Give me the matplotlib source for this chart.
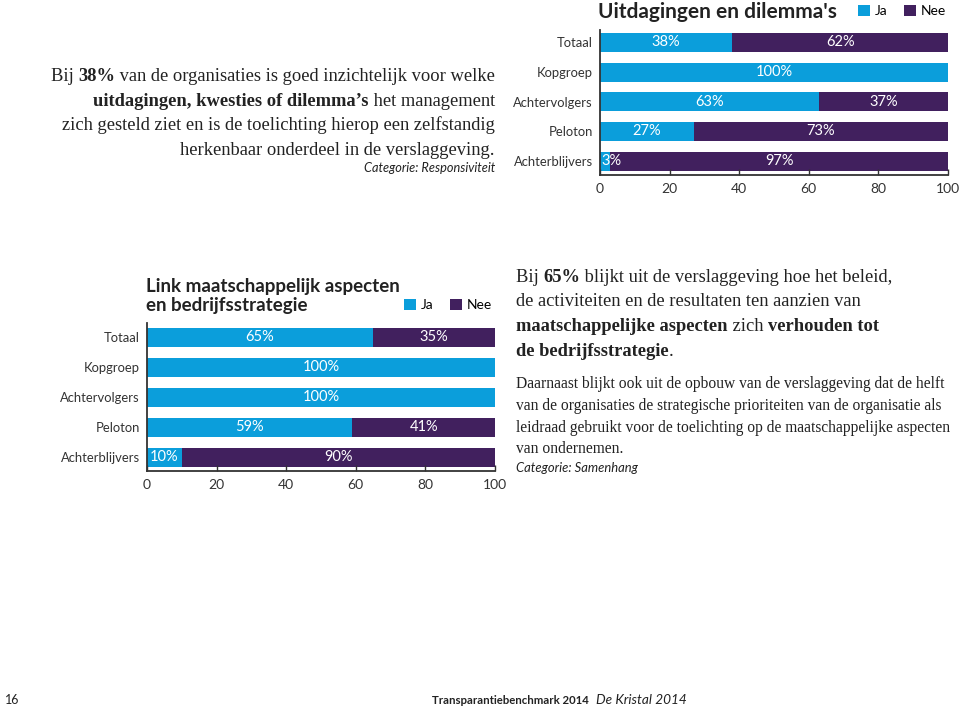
import matplotlib
matplotlib.use("Agg")
import matplotlib.pyplot as plt
import numpy as np

# ---------------- data ----------------
groups = ["Totaal", "Kopgroep", "Achtervolgers", "Peloton", "Achterblijvers"]
series = ["Ja", "Nee"]

dilemma_ja = [38, 100, 63, 27, 3]
dilemma_nee = [62, 0, 37, 73, 97]

link_ja = [65, 100, 100, 59, 10]
link_nee = [35, 0, 0, 41, 90]

x_ticks = [0, 20, 40, 60, 80, 100]

title_top = "Uitdagingen en dilemma's"
title_bottom = "Link maatschappelijk aspecten\nen bedrijfsstrategie"

BLUE = "#0b9edb"
PURPLE = "#41205e"
SANS = ["Lato", "DejaVu Sans"]
SERIF = ["Liberation Serif", "DejaVu Serif"]

W, H = 959, 708
fig = plt.figure(figsize=(W / 100, H / 100), dpi=100)

# background axes in pixel coordinates for free text
bg = fig.add_axes([0, 0, 1, 1])
bg.set_xlim(0, W)
bg.set_ylim(H, 0)
bg.axis("off")


def px_axes(left, top, right, bottom):
    return fig.add_axes([left / W, 1 - bottom / H, (right - left) / W, (bottom - top) / H])


def stacked(ax, ja, nee, ylim):
    y = np.arange(len(groups))
    ax.barh(y, ja, height=0.64, color=BLUE, label=series[0])
    ax.barh(y, nee, left=ja, height=0.64, color=PURPLE, label=series[1])
    ax.set_xlim(0, 100)
    ax.set_ylim(*ylim)
    ax.set_yticks(y)
    ax.set_yticklabels(groups, family=SANS, fontsize=9.4, color="#333333")
    ax.set_xticks(x_ticks)
    ax.set_xticklabels([str(t) for t in x_ticks], family=SANS, fontsize=10, color="#333333")
    ax.tick_params(axis="y", length=0, pad=5)
    ax.tick_params(axis="x", direction="in", length=4, width=1, color="#333333", pad=6)
    for s in ["top", "right"]:
        ax.spines[s].set_visible(False)
    for s in ["left", "bottom"]:
        ax.spines[s].set_color("#333333")
        ax.spines[s].set_linewidth(1.3)
    for i in range(len(groups)):
        if ja[i] > 0:
            xc = max(ja[i] / 2, 3.4)
            ax.text(xc, i, f"{ja[i]}%", ha="center", va="center", color="white",
                    family=SANS, fontsize=10.5)
        if nee[i] > 0:
            ax.text(ja[i] + nee[i] / 2, i, f"{nee[i]}%", ha="center", va="center",
                    color="white", family=SANS, fontsize=10.5)


def legend_at(ax, right_px, cy_px):
    h, l = ax.get_legend_handles_labels()
    fig.legend(h, l, loc="center right", bbox_to_anchor=(right_px / W, 1 - cy_px / H), ncol=2,
               frameon=False, handlelength=0.85, handleheight=0.85, handletextpad=0.35,
               columnspacing=1.2, borderaxespad=0, borderpad=0,
               prop={"family": SANS, "size": 10})


# ---------------- top chart ----------------
ax1 = px_axes(600, 30, 948, 175)
stacked(ax1, dilemma_ja, dilemma_nee, (4.47, -0.42))
bg.text(598, 12, title_top, ha="left", va="center", family=SANS, fontsize=15,
        fontweight="bold", color="#222222")
legend_at(ax1, 946, 11)

# ---------------- bottom chart ----------------
ax2 = px_axes(147, 323, 495, 471)
stacked(ax2, link_ja, link_nee, (4.45, -0.48))
bg.text(146, 296, title_bottom, ha="left", va="center", family=SANS, fontsize=13.5,
        fontweight="bold", color="#222222", linespacing=1.12)
legend_at(ax2, 492, 305)


# ---------------- text blocks ----------------
def line(x, y, parts, align="left", size=13.3, family=SERIF, color="#222222"):
    """parts: list of (text, bold) segments, chained along the baseline."""
    seq = parts if align == "left" else list(reversed(parts))
    prev = None
    for txt, bold in seq:
        kw = dict(family=family, fontsize=size, color=color,
                  fontweight="bold" if bold else "normal")
        if prev is None:
            prev = bg.text(x, y, txt, ha=align, va="baseline", **kw)
        else:
            xy = (1, 0) if align == "left" else (0, 0)
            prev = bg.annotate(txt, xy=xy, xycoords=prev, ha=align, va="bottom", **kw)


R = 495
line(R, 81, [("Bij ", False), ("38%", True), (" van de organisaties is goed inzichtelijk voor welke", False)], align="right")
line(R, 106, [("uitdagingen, kwesties of dilemma\u2019s", True), (" het management", False)], align="right")
line(R, 130, [("zich gesteld ziet en is de toelichting hierop een zelfstandig", False)], align="right")
line(R, 155, [("herkenbaar onderdeel in de verslaggeving.", False)], align="right")
bg.text(R, 172, "Categorie: Responsiviteit", ha="right", va="baseline", family=SANS,
        fontsize=9.2, style="italic", color="#222222")

L = 516
line(L, 282, [("Bij ", False), ("65%", True), (" blijkt uit de verslaggeving hoe het beleid,", False)], size=13.35)
line(L, 306, [("de activiteiten en de resultaten ten aanzien van", False)], size=13.35)
line(L, 331, [("maatschappelijke aspecten", True), (" zich ", False), ("verhouden tot", True)], size=13.35)
line(L, 356, [("de bedrijfsstrategie", True), (".", False)], size=13.35)

small = 11.2
line(L, 388, [("Daarnaast blijkt ook uit de opbouw van de verslaggeving dat de helft", False)], size=small)
line(L, 410, [("van de organisaties de strategische prioriteiten van de organisatie als", False)], size=small)
line(L, 432, [("leidraad gebruikt voor de toelichting op de maatschappelijke aspecten", False)], size=small)
line(L, 453, [("van ondernemen.", False)], size=small)
bg.text(L, 472, "Categorie: Samenhang", ha="left", va="baseline", family=SANS,
        fontsize=9.4, style="italic", color="#222222")

# ---------------- footer ----------------
bg.text(5, 704, "16", ha="left", va="baseline", family=SANS, fontsize=9, color="#222222")
ft = bg.text(432, 704, "Transparantiebenchmark 2014", ha="left", va="baseline", family=SANS,
             fontsize=8.2, fontweight="bold", color="#222222")
bg.annotate("De Kristal 2014", xy=(1, 0), xycoords=ft, xytext=(5.5, 0), textcoords="offset points",
            ha="left", va="bottom", family=SANS, fontsize=9.8, style="italic", color="#222222")

fig.savefig("out.png", dpi=100)
